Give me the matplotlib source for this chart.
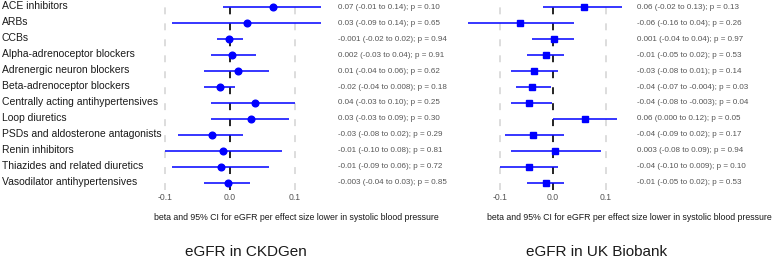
import matplotlib
matplotlib.use('Agg')
import matplotlib.pyplot as plt
import matplotlib.transforms as mtransforms

plt.rcParams['font.family'] = ['Liberation Sans', 'DejaVu Sans']
plt.rcParams['lines.scale_dashes'] = False

klasy = ['ACE inhibitors', 'ARBs', 'CCBs', 'Alpha-adrenoceptor blockers',
         'Adrenergic neuron blockers', 'Beta-adrenoceptor blockers',
         'Centrally acting antihypertensives', 'Loop diuretics',
         'PSDs and aldosterone antagonists', 'Renin inhibitors',
         'Thiazides and related diuretics', 'Vasodilator antihypertensives']

# CKDGen
ckd_beta = [0.066, 0.026, -0.001, 0.003, 0.013, -0.015, 0.038, 0.032, -0.028, -0.011, -0.014, -0.003]
ckd_lo = [-0.011, -0.09, -0.02, -0.03, -0.04, -0.04, -0.03, -0.03, -0.08, -0.10, -0.09, -0.04]
ckd_hi = [0.14, 0.14, 0.02, 0.04, 0.06, 0.008, 0.10, 0.09, 0.02, 0.08, 0.06, 0.03]
ckd_tekst = ['0.07 (-0.01 to 0.14); p = 0.10', '0.03 (-0.09 to 0.14); p = 0.65',
             '-0.001 (-0.02 to 0.02); p = 0.94', '0.002 (-0.03 to 0.04); p = 0.91',
             '0.01 (-0.04 to 0.06); p = 0.62', '-0.02 (-0.04 to 0.008); p = 0.18',
             '0.04 (-0.03 to 0.10); p = 0.25', '0.03 (-0.03 to 0.09); p = 0.30',
             '-0.03 (-0.08 to 0.02); p = 0.29', '-0.01 (-0.10 to 0.08); p = 0.81',
             '-0.01 (-0.09 to 0.06); p = 0.72', '-0.003 (-0.04 to 0.03); p = 0.85']

# UK Biobank
ukb_beta = [0.058, -0.062, 0.001, -0.013, -0.036, -0.04, -0.046, 0.06, -0.038, 0.003, -0.046, -0.013]
ukb_lo = [-0.02, -0.16, -0.04, -0.05, -0.08, -0.07, -0.08, 0.0, -0.09, -0.08, -0.10, -0.05]
ukb_hi = [0.13, 0.04, 0.04, 0.02, 0.01, -0.004, -0.003, 0.12, 0.02, 0.09, 0.009, 0.02]
ukb_tekst = ['0.06 (-0.02 to 0.13); p = 0.13', '-0.06 (-0.16 to 0.04); p = 0.26',
             '0.001 (-0.04 to 0.04); p = 0.97', '-0.01 (-0.05 to 0.02); p = 0.53',
             '-0.03 (-0.08 to 0.01); p = 0.14', '-0.04 (-0.07 to -0.004); p = 0.03',
             '-0.04 (-0.08 to -0.003); p = 0.04', '0.06 (0.000 to 0.12); p = 0.05',
             '-0.04 (-0.09 to 0.02); p = 0.17', '0.003 (-0.08 to 0.09); p = 0.94',
             '-0.04 (-0.10 to 0.009); p = 0.10', '-0.01 (-0.05 to 0.02); p = 0.53']

xticks = [-0.1, 0.0, 0.1]
xtick_etykiety = ['-0.1', '0.0', '0.1']
xlabel = 'beta and 95% CI for eGFR per effect size lower in systolic blood pressure'

W, H = 778, 261
fig = plt.figure(figsize=(W / 100, H / 100), dpi=100)
NIEBIESKI = '#0000ff'
KRESKI = (0, (5.0, 6.5))


def panel(lewo_px, szer_px, xlim, beta, lo, hi, teksty, marker, tekst_x_px,
          xlabel_x_px, tytul, tytul_x_px, etykiety=False):
    ax = fig.add_axes([lewo_px / W, (H - 190) / H, szer_px / W, 190 / H])
    ax.set_xlim(*xlim)
    ax.set_ylim(11.44, -0.44)
    for s in ax.spines.values():
        s.set_visible(False)
    ax.set_yticks([])
    ax.set_xticks(xticks)
    ax.set_xticklabels(xtick_etykiety)
    ax.tick_params(axis='x', length=0, pad=2.5, labelsize=6.2, labelcolor='#555555')
    for xv in xticks:
        if xv == 0:
            ax.axvline(xv, color='#222222', lw=1.4, ls=KRESKI, zorder=3)
        else:
            ax.axvline(xv, color='#dddddd', lw=1.4, ls=KRESKI, zorder=1)
    y = list(range(len(beta)))
    ax.hlines(y, lo, hi, color=NIEBIESKI, lw=1.1, zorder=4)
    ax.plot(beta, y, ls='none', marker=marker, ms=4.8, color=NIEBIESKI, zorder=5)
    tr = mtransforms.blended_transform_factory(fig.transFigure, ax.transData)
    for yi, t in zip(y, teksty):
        ax.text(tekst_x_px / W, yi, t, transform=tr, fontsize=5.8, color='#555555',
                va='center', ha='left')
    if etykiety:
        for yi, k in zip(y, klasy):
            ax.text(2 / W, yi - 0.08, k, transform=tr, fontsize=7.5, color='#1a1a1a',
                    va='center', ha='left')
    fig.text(xlabel_x_px / W, 1 - 218 / H, xlabel, fontsize=6.3, color='#1a1a1a',
             ha='center', va='center')
    fig.text(tytul_x_px / W, 1 - 252 / H, tytul, fontsize=11, color='#1a1a1a',
             ha='center', va='center')
    return ax


panel(158.5, 169, (-0.11, 0.15), ckd_beta, ckd_lo, ckd_hi, ckd_tekst, 'o', 338,
      296, 'eGFR in CKDGen', 246, etykiety=True)
panel(463, 164.3, (-0.17, 0.14), ukb_beta, ukb_lo, ukb_hi, ukb_tekst, 's', 637,
      629, 'eGFR in UK Biobank', 597)

plt.savefig('out.png', dpi=100)
